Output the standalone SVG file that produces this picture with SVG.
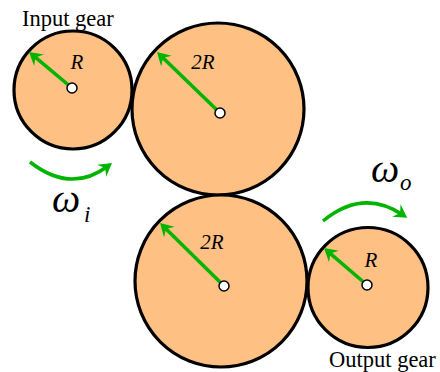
<svg xmlns="http://www.w3.org/2000/svg" width="440" height="372" viewBox="0 0 440 372">
<style>
.gear{fill:#ffc084;stroke:#000;stroke-width:3.2}
.hub{fill:#fff;stroke:#000;stroke-width:1.5}
.rad{stroke:#00b400;stroke-width:3.5;fill:none}
.lbl{font-family:"Liberation Serif",serif;font-style:italic;font-size:21px;fill:#000;text-anchor:middle}
.cap{font-family:"Liberation Serif",serif;font-size:22.5px;fill:#000}
.om{font-family:"Liberation Serif",serif;font-style:italic;fill:#000}
</style>
<defs>
<marker id="ah" viewBox="-15 -9 18 18" refX="-5" refY="0" markerWidth="18" markerHeight="18" orient="auto" markerUnits="userSpaceOnUse">
<path d="M0,0 L-13,-7.5 L-8.5,0 L-13,7.5 Z" fill="#00b400"/>
</marker>
</defs>
<g id="input-gear">
<circle class="gear" cx="73" cy="90" r="59"/>
<line class="rad" x1="72" y1="88" x2="32.8" y2="55.2" marker-end="url(#ah)"/>
<circle class="hub" cx="72" cy="88" r="5"/>
<text class="lbl" x="77" y="69">R</text>
<text class="cap" x="22" y="26">Input gear</text>
</g>
<g id="gear-2">
<circle class="gear" cx="218" cy="109" r="86"/>
<line class="rad" x1="220" y1="113" x2="160.6" y2="55.5" marker-end="url(#ah)"/>
<circle class="hub" cx="220" cy="113" r="5"/>
<text class="lbl" x="203" y="69">2R</text>
</g>
<g id="gear-3">
<circle class="gear" cx="221" cy="281" r="86"/>
<line class="rad" x1="224" y1="286" x2="163.6" y2="226.5" marker-end="url(#ah)"/>
<circle class="hub" cx="224" cy="286" r="5"/>
<text class="lbl" x="212" y="249">2R</text>
</g>
<g id="output-gear">
<circle class="gear" cx="368" cy="287.5" r="60"/>
<line class="rad" x1="367" y1="285" x2="327.8" y2="251.3" marker-end="url(#ah)"/>
<circle class="hub" cx="367" cy="285" r="5"/>
<text class="lbl" x="371" y="267">R</text>
<text class="cap" x="329" y="367">Output gear</text>
</g>
<g id="connectors">
<path class="rad" d="M30,162 Q71,194 108,166" marker-end="url(#ah)"/>
<path class="rad" d="M323,221 Q363,188 403,215" marker-end="url(#ah)"/>
</g>
<g id="omega-labels">
<text class="om" x="52" y="212" font-size="40">ω</text>
<text class="om" x="84" y="222" font-size="23">i</text>
<text class="om" x="371" y="182" font-size="40">ω</text>
<text class="om" x="400" y="190" font-size="23">o</text>
</g>
</svg>
